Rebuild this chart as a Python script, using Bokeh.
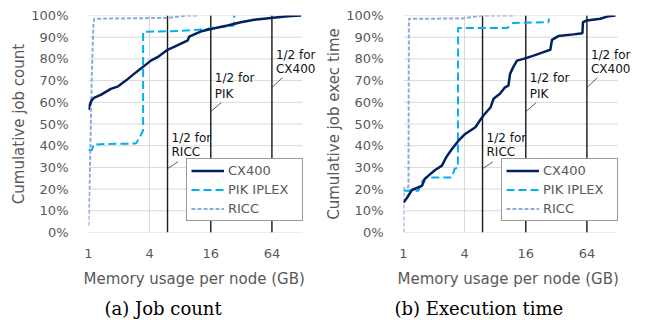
from bokeh.plotting import figure
from bokeh.models import FixedTicker, PrintfTickFormatter, Legend, LegendItem, Title, Label
from bokeh.layouts import row
from bokeh.embed import file_html
from bokeh.resources import INLINE

# ---------------- data ----------------
x_ticks = [1, 4, 16, 64]
y_ticks = [0, 10, 20, 30, 40, 50, 60, 70, 80, 90, 100]
series_names = ["CX400", "PIK IPLEX", "RICC"]
half_mem_gb = [6, 16, 64]
half_names = ["RICC", "PIK", "CX400"]
half_prefix = ["1/2 for", "1/2 for", "1/2 for"]
x_title = "Memory usage per node (GB)"

# (a) cumulative job count (%), memory in GB
jobs_cx400_x = [1.0, 1.03, 1.07, 1.13, 1.32, 1.66, 1.93, 2.33, 2.81, 3.40, 4.11, 4.78,
                6.0, 7.5, 9.5, 9.8, 12.7, 16, 23.4, 31.6, 42.8, 62.6, 91, 124]
jobs_cx400_y = [56.5, 59.0, 60.8, 62.0, 63.4, 66.2, 67.2, 70.0, 73.1, 76.1, 79.2, 80.8,
                84.2, 86.2, 88.5, 90.3, 92.6, 93.8, 95.4, 96.9, 98.0, 98.9, 99.6, 100]
jobs_pik_x = [1.0, 1.08, 1.12, 1.5, 2.93, 3.2, 3.45, 3.45, 7.5, 14, 16, 27, 27.2]
jobs_pik_y = [38.0, 38.0, 40.5, 40.8, 41.0, 44.0, 47.0, 92.5, 92.8, 93.6, 94.2, 95.4, 100]
jobs_ricc_x = [1.0, 1.04, 1.08, 1.12, 1.14, 6.0, 9.5, 12]
jobs_ricc_y = [3.1, 35.0, 75.0, 96.0, 98.5, 98.9, 100, 100]

# (b) cumulative job execution time (%)
time_cx400_x = [1.0, 1.08, 1.21, 1.35, 1.52, 1.62, 1.76, 2.05, 2.39, 2.58, 2.77, 3.0,
                3.48, 4.05, 5.1, 5.5, 6.1, 7.2, 7.7, 8.9, 10.0, 10.8, 11.2, 12.0, 13.1,
                15.2, 19.1, 23.9, 27.9, 29.0, 33.4, 47.2, 57.8, 58.5, 64, 86.7, 101, 122]
time_cx400_y = [13.8, 15.9, 19.6, 20.5, 21.5, 24.6, 26.2, 28.8, 30.8, 33.9, 36.2, 38.5,
                42.3, 45.4, 48.5, 50.8, 53.8, 57.7, 61.6, 63.9, 66.9, 67.7, 73.1, 76.1, 79.2,
                80.0, 81.5, 83.1, 84.2, 88.8, 90.5, 91.3, 91.8, 96.9, 97.7, 98.5, 99.5, 100]
time_pik_x = [1.0, 1.40, 1.49, 1.65, 3.0, 3.18, 3.43, 3.45, 10.5, 12.0, 26.8, 27.0]
time_pik_y = [19.2, 19.2, 23.0, 25.3, 25.4, 29.2, 30.0, 94.2, 94.2, 96.6, 96.9, 98.6]
time_ricc_x = [1.0, 1.0, 1.12, 1.13, 3.8, 5.9, 12]
time_ricc_y = [0.0, 20.5, 21.0, 98.5, 98.6, 100, 100]

# annotation layout (in axis units)
ann_line1_y = [43.7, 71.4, 82.0]
ann_line2_y = [37.2, 64.0, 75.5]
leader_y0 = [29.4, 55.7, 66.8]
leader_y1 = [32.6, 59.9, 71.4]

X_MIN, X_MAX = 1, 128
PX_PER_OCT = 30.57
PAD_PX = 18                       # room right of the grid for the "CX400" note
X_END = X_MAX * 2 ** (PAD_PX / PX_PER_OCT)
LEADER_DX = 2 ** (10.5 / PX_PER_OCT)
FRAME_W = 214 + PAD_PX

NAVY = "#002060"
CYAN = "#00B0F0"
PERI = "#8EA9DB"
GRAY = "#595959"
GRID = "#d9d9d9"
SANS = "DejaVu Sans"


def make_panel(cx, cy, px, py, rx, ry, ylabel, caption, width, left,
               title_off, cap_off):
    p = figure(width=width, height=320, x_axis_type="log", x_range=(X_MIN, X_END),
               y_range=(0, 100), output_backend="svg", toolbar_location=None,
               min_border_left=left, min_border_right=width - left - FRAME_W,
               min_border_top=15, min_border_bottom=88)
    p.outline_line_color = None
    p.background_fill_color = "white"

    p.xaxis.ticker = FixedTicker(ticks=x_ticks, minor_ticks=[])
    p.xaxis.formatter = PrintfTickFormatter(format="%d")
    p.yaxis.ticker = FixedTicker(ticks=y_ticks, minor_ticks=[])
    p.yaxis.formatter = PrintfTickFormatter(format="%d%%")
    for ax in (p.xaxis, p.yaxis):
        ax.axis_line_color = None
        ax.major_tick_line_color = None
        ax.minor_tick_line_color = None
        ax.major_label_text_font = SANS
        ax.major_label_text_font_size = "13px"
        ax.major_label_text_color = GRAY
    p.xaxis.major_label_standoff = 10
    p.yaxis.axis_label = ylabel
    p.yaxis.axis_label_text_font = SANS
    p.yaxis.axis_label_text_font_style = "normal"
    p.yaxis.axis_label_text_color = GRAY
    p.yaxis.axis_label_text_font_size = "15px"
    p.yaxis.major_label_standoff = 14
    p.yaxis.axis_label_standoff = 0

    p.xgrid.grid_line_color = GRID
    p.xgrid.grid_line_width = 1
    p.ygrid.grid_line_color = None
    # horizontal grid lines drawn only over the data extent (1..128 GB)
    p.segment(x0=[X_MIN] * len(y_ticks), y0=y_ticks, x1=[X_MAX] * len(y_ticks),
              y1=y_ticks, line_color=GRID, line_width=1)

    # half-memory reference lines
    p.segment(x0=half_mem_gb, y0=[0] * 3, x1=half_mem_gb, y1=[100] * 3,
              line_color="#1a1a1a", line_width=1.4)
    p.segment(x0=half_mem_gb, y0=leader_y0,
              x1=[h * LEADER_DX for h in half_mem_gb], y1=leader_y1,
              line_color="#333333", line_width=0.8)
    for hx, y1, y2, t1, t2 in zip(half_mem_gb, ann_line1_y, ann_line2_y,
                                  half_prefix, half_names):
        for yy, tt in ((y1, t1), (y2, t2)):
            p.add_layout(Label(x=hx, y=yy, text=tt, x_offset=4,
                               text_font=SANS, text_font_size="12px",
                               text_color="#111111", text_baseline="middle",
                               text_align="left"))

    r_ricc = p.line(rx, ry, line_color=PERI, line_width=2, line_dash="4 2")
    r_pik = p.line(px, py, line_color=CYAN, line_width=2, line_dash="8 4")
    r_cx = p.line(cx, cy, line_color=NAVY, line_width=2.5)

    legend = Legend(items=[LegendItem(label=series_names[0], renderers=[r_cx]),
                           LegendItem(label=series_names[1], renderers=[r_pik]),
                           LegendItem(label=series_names[2], renderers=[r_ricc])],
                    location=(98, 11), margin=0, padding=4, spacing=4,
                    glyph_width=33, glyph_height=15, label_height=15,
                    label_width=70, label_standoff=4,
                    border_line_color="#333333", border_line_width=1.2,
                    background_fill_color="white", background_fill_alpha=1,
                    label_text_font=SANS, label_text_font_size="13px",
                    label_text_color=GRAY)
    p.add_layout(legend)

    p.add_layout(Title(text=x_title, align="left", offset=title_off,
                       text_font=SANS, text_font_size="15px",
                       text_font_style="normal", text_color=GRAY,
                       standoff=14), "below")
    p.add_layout(Title(text=caption, align="left", offset=cap_off,
                       text_font="DejaVu Serif", text_font_size="18px",
                       text_font_style="normal", text_color="black",
                       standoff=2), "below")
    return p


pa = make_panel(jobs_cx400_x, jobs_cx400_y, jobs_pik_x, jobs_pik_y,
                jobs_ricc_x, jobs_ricc_y, "Cumulative job count",
                "(a) Job count", 320, 88, -5, 16)
pb = make_panel(time_cx400_x, time_cx400_y, time_pik_x, time_pik_y,
                time_ricc_x, time_ricc_y, "Cumulative job exec time",
                "(b) Execution time", 325, 83, -6, -9)

layout = row(pa, pb)
open("out.html", "w").write(file_html(layout, INLINE))
